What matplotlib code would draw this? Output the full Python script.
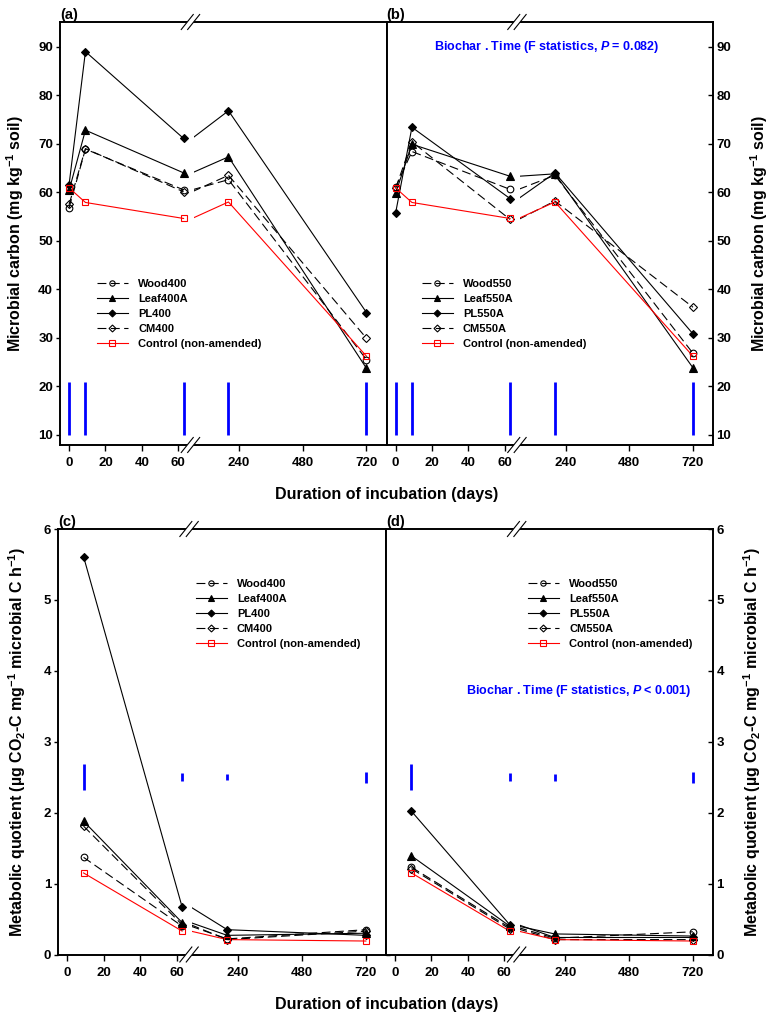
import matplotlib
matplotlib.use("Agg")
import matplotlib.pyplot as plt
from matplotlib.lines import Line2D
from matplotlib.patches import Rectangle, Polygon

plt.rcParams["font.family"] = ["Liberation Sans", "DejaVu Sans"]
plt.rcParams["font.weight"] = "bold"
plt.rcParams["mathtext.fontset"] = "custom"
plt.rcParams["mathtext.rm"] = "Liberation Sans:bold"
plt.rcParams["mathtext.it"] = "Liberation Sans:italic:bold"
plt.rcParams["mathtext.bf"] = "Liberation Sans:bold"
plt.rcParams["axes.linewidth"] = 1.4

# ---- data ----
days_mbc = [0, 9, 63, 200, 720]
days_q = [9, 63, 200, 720]

# microbial carbon, mg/kg soil
wood400_mbc = [56.8, 68.9, 60.5, 62.6, 25.5]
leaf400_mbc = [60.4, 72.8, 64.0, 67.3, 23.7]
pl400_mbc = [61.6, 89.0, 71.1, 76.8, 35.2]
cm400_mbc = [57.5, 69.0, 60.1, 63.5, 29.9]
wood550_mbc = [61.0, 68.4, 60.6, 63.5, 26.8]
leaf550_mbc = [59.8, 69.9, 63.3, 63.8, 23.8]
pl550_mbc = [55.7, 73.4, 58.7, 64.0, 30.8]
cm550_mbc = [60.8, 70.4, 54.4, 58.2, 36.3]
control_mbc = [60.9, 57.9, 54.6, 58.0, 26.2]

# metabolic quotient
wood400_q = [1.37, 0.40, 0.22, 0.35]
leaf400_q = [1.88, 0.45, 0.27, 0.30]
pl400_q = [5.61, 0.67, 0.35, 0.27]
cm400_q = [1.81, 0.42, 0.21, 0.33]
wood550_q = [1.23, 0.38, 0.23, 0.32]
leaf550_q = [1.39, 0.40, 0.29, 0.26]
pl550_q = [2.02, 0.42, 0.24, 0.24]
cm550_q = [1.21, 0.36, 0.21, 0.21]
control_q = [1.15, 0.33, 0.21, 0.19]

# LSD bars
lsd_mbc_400 = [10.9, 10.9, 10.9, 10.9, 10.9]
lsd_mbc_550 = [10.9, 10.9, 10.9, 10.9, 10.9]
lsd_q_400 = [0.37, 0.11, 0.09, 0.15]
lsd_q_550 = [0.37, 0.12, 0.10, 0.16]

labels_400 = ["Wood400", "Leaf400A", "PL400", "CM400", "Control (non-amended)"]
labels_550 = ["Wood550", "Leaf550A", "PL550A", "CM550A", "Control (non-amended)"]

x_ticks_days = [0, 20, 40, 60, 240, 480, 720]

# ---- broken x axis: 0-66 days linear, then compressed ----
BREAK_DAY = 66
SEG2_START = 68.14
SEG2_SLOPE = 0.1461
BREAK_U = 66.8
CLIP_U = 68.6
XLIM = (-5.0, 174.7)


def xpos(day, seg=None):
    if seg is None:
        seg = 1 if day <= BREAK_DAY else 2
    if seg == 1:
        return day
    return SEG2_START + (day - BREAK_DAY) * SEG2_SLOPE


DASH = (0, (8, 4))
styles = [
    dict(color="black", ls=DASH, marker="o", mfc="none", ms=4.8),
    dict(color="black", ls="-", marker="^", mfc="black", ms=5.5),
    dict(color="black", ls="-", marker="D", mfc="black", ms=4.4),
    dict(color="black", ls=DASH, marker="D", mfc="none", ms=4.4),
    dict(color="red", ls="-", marker="s", mfc="none", ms=4.8),
]

fig = plt.figure(figsize=(7.73, 10.17), dpi=100)
W, H = 773, 1017


def add_ax(l, t, r, b):
    return fig.add_axes([l / W, 1 - b / H, (r - l) / W, (b - t) / H])


ax_a = add_ax(60, 22, 386.5, 445)
ax_b = add_ax(386.5, 22, 713, 445)
ax_c = add_ax(58, 529, 386, 954.5)
ax_d = add_ax(386, 529, 713, 954.5)


def draw_series(ax, days, values, st, ylim):
    seg1 = [(d, v) for d, v in zip(days, values) if d <= BREAK_DAY]
    seg2_days = [d for d in days if d > BREAK_DAY]
    seg2_vals = [v for d, v in zip(days, values) if d > BREAK_DAY]
    # joining point (last early point) expressed on the second segment
    seg2_x = [xpos(seg1[-1][0], 2)] + [xpos(d) for d in seg2_days]
    seg2_y = [seg1[-1][1]] + seg2_vals
    lw = 0.8
    ax.plot([xpos(d) for d, _ in seg1], [v for _, v in seg1], color=st["color"],
            ls=st["ls"], lw=lw, zorder=3)
    ln = ax.plot(seg2_x, seg2_y, color=st["color"], ls=st["ls"], lw=lw, zorder=3)[0]
    ln.set_clip_path(Rectangle((CLIP_U, ylim[0]), 500, ylim[1] - ylim[0],
                               transform=ax.transData))
    ax.plot([xpos(d) for d in days], values, ls="none", marker=st["marker"],
            mfc=st["mfc"], mec=st["color"], ms=st["ms"], mew=0.8, zorder=4)


def break_marks(ax, w_px, h_px):
    xf = (BREAK_U - XLIM[0]) / (XLIM[1] - XLIM[0])
    dx = 3.2 / w_px
    sx = 6.0 / w_px
    sy = 7.5 / h_px
    for yf in (0, 1):
        ax.add_patch(Polygon([(xf - dx - sx, yf - sy), (xf - dx + sx, yf + sy),
                              (xf + dx + sx, yf + sy), (xf + dx - sx, yf - sy)],
                             closed=True, transform=ax.transAxes, fc="white",
                             ec="none", clip_on=False, zorder=5))
        for off in (-dx, dx):
            ax.plot([xf + off - sx, xf + off + sx], [yf - sy, yf + sy],
                    transform=ax.transAxes, color="black", lw=0.8,
                    clip_on=False, zorder=6)


def setup_panel(ax, ylim, yticks, right, w_px, h_px):
    ax.set_xlim(*XLIM)
    ax.set_ylim(*ylim)
    ax.set_xticks([xpos(d) for d in x_ticks_days])
    ax.set_xticklabels([str(d) for d in x_ticks_days])
    ax.set_yticks(yticks)
    ax.tick_params(axis="x", direction="out", length=4, width=1, pad=5,
                   labelsize=9.5, top=False)
    if right:
        ax.yaxis.tick_right()
        ax.tick_params(axis="y", direction="in", length=3.5, width=1,
                       pad=2.5, labelsize=9.5, left=False)
    else:
        ax.tick_params(axis="y", direction="out", length=3, width=1, pad=2,
                       labelsize=9.5, right=True, labelright=False)
    break_marks(ax, w_px, h_px)


def legend(ax, labels, x, y):
    handles = [Line2D([], [], color=st["color"], ls=st["ls"], lw=0.8,
                      marker=st["marker"], mfc=st["mfc"], mec=st["color"],
                      ms=st["ms"] * 0.8, mew=0.8) for st in styles]
    ax.legend(handles, labels, loc="upper left", bbox_to_anchor=(x, y),
              frameon=False, fontsize=8, handlelength=2.8, handletextpad=0.9,
              labelspacing=0.45, borderpad=0, borderaxespad=0)


ylim_mbc = (7.9, 95.1)
ylim_q = (0, 6)

# (a) and (b): microbial carbon
for ax, series, lsd in [
    (ax_a, [wood400_mbc, leaf400_mbc, pl400_mbc, cm400_mbc, control_mbc], lsd_mbc_400),
    (ax_b, [wood550_mbc, leaf550_mbc, pl550_mbc, cm550_mbc, control_mbc], lsd_mbc_550),
]:
    for vals, st in zip(series, styles):
        draw_series(ax, days_mbc, vals, st, ylim_mbc)
    for d, h in zip(days_mbc, lsd):
        ax.vlines(xpos(d), 10, 10 + h, color="blue", lw=2.0, zorder=2)

# (c) and (d): metabolic quotient
for ax, series, lsd in [
    (ax_c, [wood400_q, leaf400_q, pl400_q, cm400_q, control_q], lsd_q_400),
    (ax_d, [wood550_q, leaf550_q, pl550_q, cm550_q, control_q], lsd_q_550),
]:
    for vals, st in zip(series, styles):
        draw_series(ax, days_q, vals, st, ylim_q)
    for d, h in zip(days_q, lsd):
        ax.vlines(xpos(d), 2.5 - h / 2, 2.5 + h / 2, color="blue", lw=2.0, zorder=2)

setup_panel(ax_a, ylim_mbc, range(10, 91, 10), False, 326.5, 423)
setup_panel(ax_b, ylim_mbc, range(10, 91, 10), True, 326.5, 423)
setup_panel(ax_c, ylim_q, range(0, 7), False, 328, 425.5)
setup_panel(ax_d, ylim_q, range(0, 7), True, 327, 425.5)

legend(ax_a, labels_400, 0.113, 0.392)
legend(ax_b, labels_550, 0.108, 0.392)
legend(ax_c, labels_400, 0.42, 0.883)
legend(ax_d, labels_550, 0.434, 0.883)

for ax, lab in zip([ax_a, ax_b, ax_c, ax_d], ["(a)", "(b)", "(c)", "(d)"]):
    ax.text(0.0, 1.0, lab, transform=ax.transAxes, ha="left", va="bottom",
            fontsize=10.5, fontweight="bold")

ax_b.text(0.49, 90, "Biochar . Time (F statistics, $\\mathit{P}$ = 0.082)",
          transform=ax_b.get_yaxis_transform(), ha="center", va="center",
          color="blue", fontsize=9)
ax_d.text(0.59, 3.72, "Biochar . Time (F statistics, $\\mathit{P}$ < 0.001)",
          transform=ax_d.get_yaxis_transform(), ha="center", va="center",
          color="blue", fontsize=9)

mbc_label = "Microbial carbon (mg kg$^{-1}$ soil)"
q_label = "Metabolic quotient (µg CO$_2$-C mg$^{-1}$ microbial C h$^{-1}$)"
for x, y, lab in [(15, 233.5, mbc_label), (759, 233.5, mbc_label),
                  (17, 741.7, q_label), (752, 741.7, q_label)]:
    fig.text(x / W, 1 - y / H, lab, rotation=90, ha="center", va="center",
             rotation_mode="anchor", fontsize=11.5, fontweight="bold")

fig.text(0.5, 1 - 495 / H, "Duration of incubation (days)", ha="center",
         va="center", fontsize=11.5, fontweight="bold")
fig.text(0.5, 1 - 1005 / H, "Duration of incubation (days)", ha="center",
         va="center", fontsize=11.5, fontweight="bold")

fig.savefig("out.png", dpi=100)
